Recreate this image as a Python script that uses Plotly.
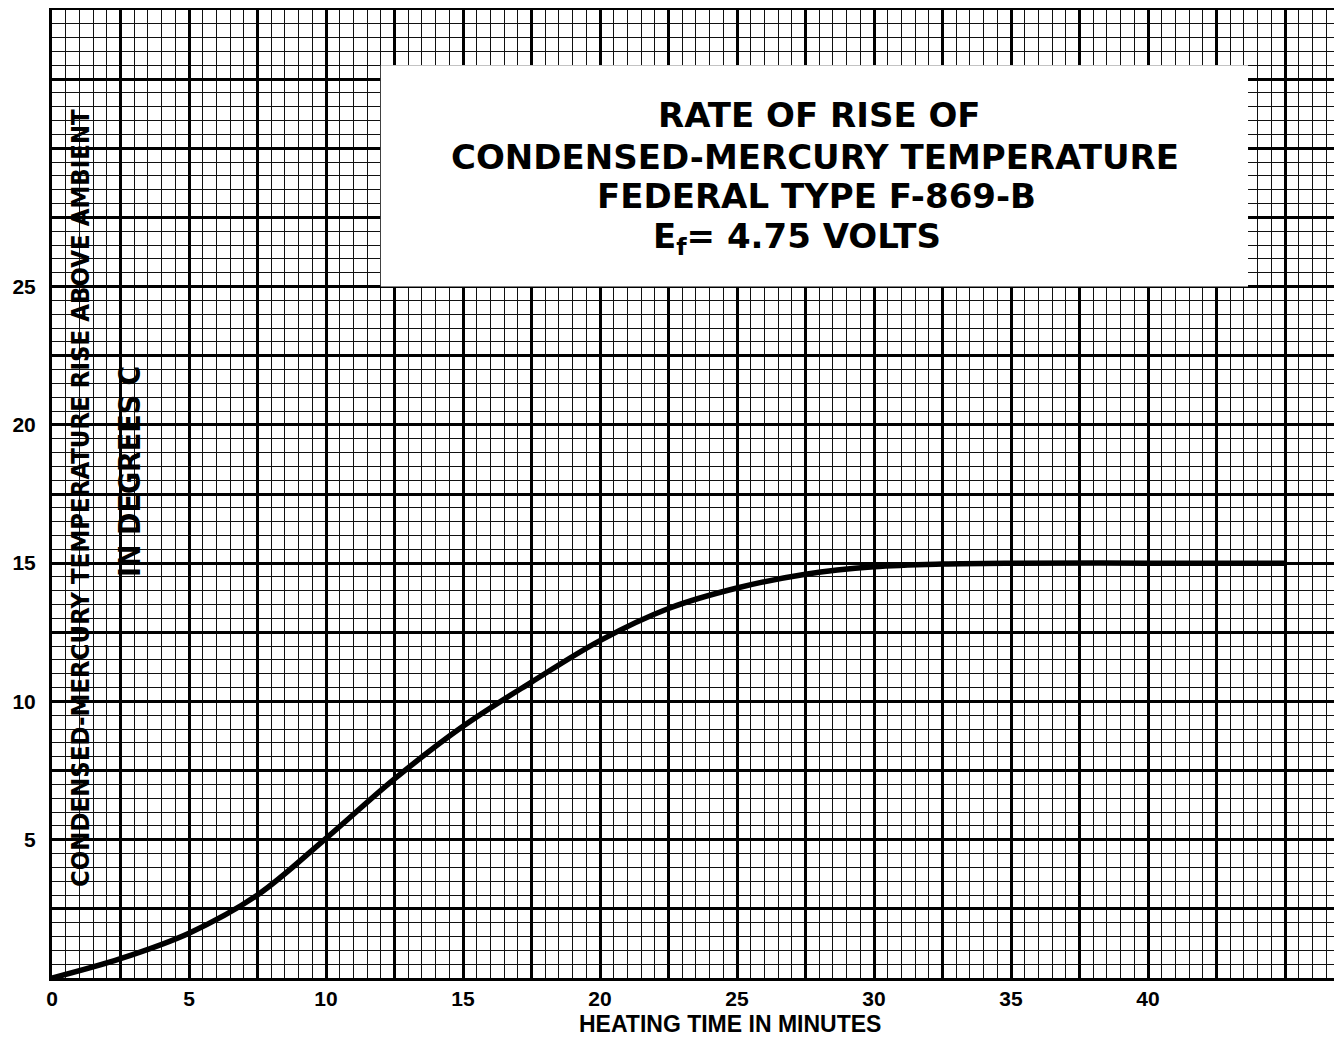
import plotly.graph_objects as go

# Heating time (minutes) and condensed-mercury temperature rise (deg C)
time_min = [0, 2.5, 5, 7.5, 10, 12.5, 15, 17.5, 20, 22.5, 25, 27.5, 30, 32.5, 35, 40, 45]
temp_rise = [0, 0.7, 1.62, 3.0, 5.05, 7.2, 9.1, 10.7, 12.2, 13.36, 14.1, 14.6, 14.87,
             14.97, 15.0, 15.0, 15.0]

x_fine = [i * 0.5 for i in range(0, 95)]
x_major = [i * 2.5 for i in range(0, 19)]
x_labels = ["0", "5", "10", "15", "20", "25", "30", "35", "40"]
y_fine = [i * 0.5 for i in range(0, 71)]
y_major = [i * 2.5 for i in range(0, 15)]
y_labels = ["5", "10", "15", "20", "25"]

def label_for(v, labels):
    s = str(int(v)) if float(v).is_integer() else ""
    return s if s in labels else ""

title_lines = ["RATE OF RISE OF", "CONDENSED-MERCURY TEMPERATURE",
               "FEDERAL TYPE F-869-B", "E<sub>f</sub>= 4.75 VOLTS"]

X_MAX, Y_MAX = 47.08, 35

fig = go.Figure()
fig.add_trace(go.Scatter(x=time_min, y=temp_rise, mode="lines",
                         line=dict(color="black", width=5.5, shape="spline", smoothing=1.0),
                         showlegend=False, hoverinfo="skip"))
# invisible trace to anchor the overlaid heavy-grid axes
fig.add_trace(go.Scatter(x=[0], y=[0], xaxis="x2", yaxis="y2", mode="markers",
                         marker=dict(opacity=0), showlegend=False, hoverinfo="skip"))

tick_font = dict(family="Liberation Sans, Arial, sans-serif", size=21, color="black", weight="bold")

fig.update_layout(
    xaxis=dict(range=[0, X_MAX], tickmode="array", tickvals=x_fine,
               ticktext=[label_for(v, x_labels) for v in x_fine],
               showgrid=True, gridcolor="#111", gridwidth=1.3, ticks="",
               tickfont=tick_font, zeroline=False, automargin=False,
               showline=True, linecolor="black", linewidth=3, mirror=True),
    yaxis=dict(range=[0, Y_MAX], tickmode="array", tickvals=y_fine,
               ticktext=[label_for(v, y_labels) for v in y_fine],
               showgrid=True, gridcolor="#111", gridwidth=1.3, ticks="",
               tickfont=tick_font, zeroline=False, automargin=False, ticklabelstandoff=9,
               showline=True, linecolor="black", linewidth=3),
    xaxis2=dict(range=[0, X_MAX], overlaying="x", tickmode="array", tickvals=x_major,
                showticklabels=False, showgrid=True, gridcolor="black", gridwidth=2.8,
                ticks="", zeroline=False, automargin=False, showline=False),
    yaxis2=dict(range=[0, Y_MAX], overlaying="y", tickmode="array", tickvals=y_major,
                showticklabels=False, showgrid=True, gridcolor="black", gridwidth=2.8,
                ticks="", zeroline=False, automargin=False, showline=False),
)

fig.add_shape(type="rect", xref="x", yref="y", x0=12.0, x1=43.65, y0=25.0, y1=33.0,
              fillcolor="white", line=dict(width=0), layer="above")

title_y = [31.2, 29.68, 28.27, 26.75]
title_x = [28.0, 27.85, 27.9, 27.2]
for txt, yy, xx in zip(title_lines, title_y, title_x):
    fig.add_annotation(x=xx, y=yy, xref="x", yref="y", text=txt, showarrow=False,
                       font=dict(family="DejaVu Sans, Liberation Sans, sans-serif", size=34,
                                 color="black", weight="bold"))

narrow = "Liberation Sans Narrow, DejaVu Sans Condensed, Roboto Condensed, Liberation Sans, sans-serif"
fig.add_annotation(x=1.02, y=17.35, xref="x", yref="y", textangle=-90, showarrow=False,
                   text="CONDENSED-MERCURY TEMPERATURE RISE ABOVE AMBIENT",
                   font=dict(family=narrow, size=25.5, color="black", weight="bold"))
fig.add_annotation(x=2.85, y=18.3, xref="x", yref="y", textangle=-90, showarrow=False,
                   text="IN DEGREES C",
                   font=dict(family=narrow, size=30, color="black", weight="bold"))

fig.add_annotation(x=(730 - 52) / 1290, y=-(1024 - 978) / 968, xref="paper", yref="paper",
                   text="HEATING TIME IN MINUTES", showarrow=False, yanchor="middle",
                   font=dict(family="Liberation Sans, Arial, sans-serif", size=23,
                             color="black", weight="bold"))

# page body adds an 8px margin, so the figure is sized/offset to compensate
fig.update_layout(width=1334, height=1029, margin=dict(l=44, r=0, t=2, b=59),
                  paper_bgcolor="white", plot_bgcolor="white")

fig.write_html("out.html")
